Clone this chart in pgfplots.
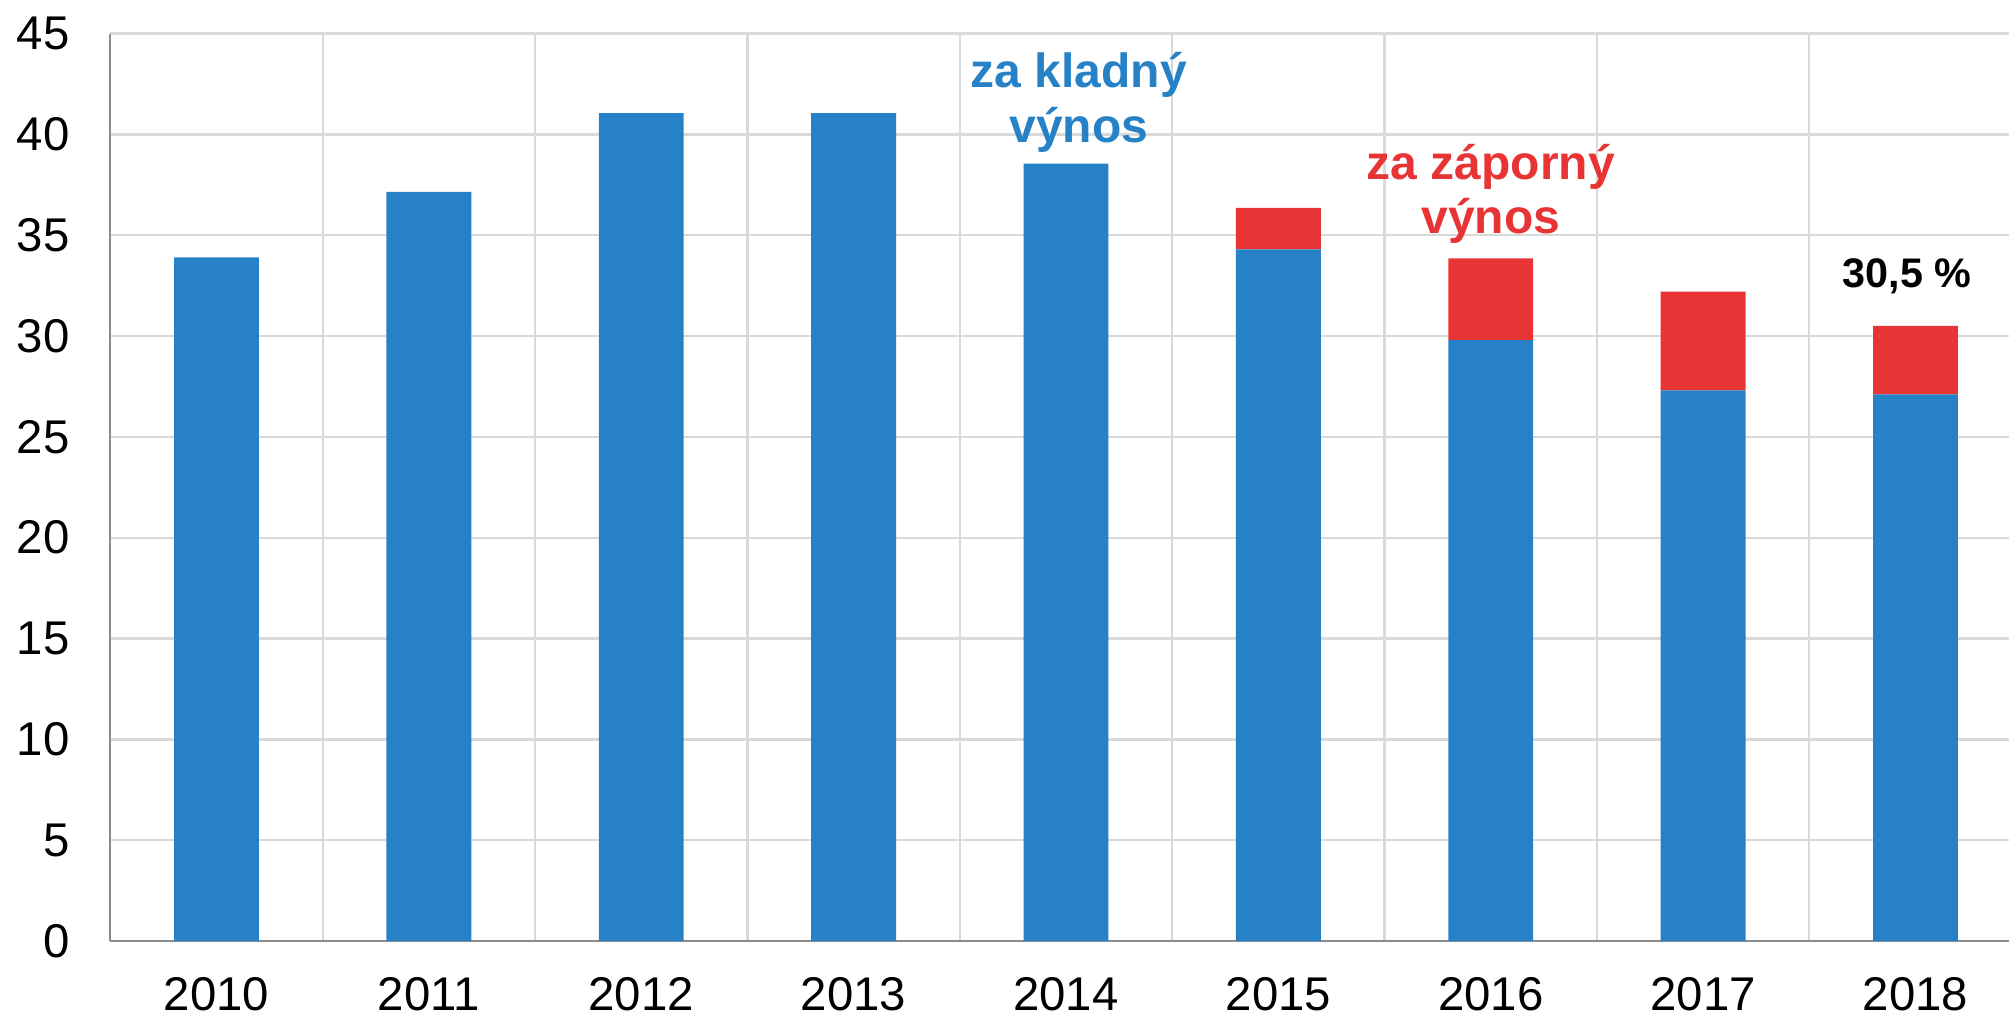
\documentclass[border=0pt]{standalone}
\usepackage{fontspec}
\setmainfont{Liberation Sans}
\usepackage{pgfplots}
\pgfplotsset{compat=1.18}
\definecolor{barblue}{HTML}{2681C7}
\definecolor{barred}{HTML}{E83434}
\definecolor{gridgray}{HTML}{D9D9D9}
\definecolor{axisgray}{HTML}{8C8C8C}

\begin{document}
\begin{tikzpicture}
\begin{axis}[at={(33.09pt,23.4pt)},anchor=south west,scale only axis,
  width=569.6pt,height=272.25pt,
  ybar stacked,bar width=0.4,
  xmin=-0.5,xmax=8.44,ymin=0,ymax=45,
  xtick={0,...,8},xticklabels={2010,2011,2012,2013,2014,2015,2016,2017,2018},
  minor xtick={0.5,1.5,...,7.5},
  ytick={0,5,...,45},
  /pgf/number format/assume math mode=true,
  major tick length=0pt,minor tick length=0pt,
  ymajorgrids,xminorgrids,
  grid style={gridgray,line width=0.7pt},
  minor grid style={gridgray,line width=0.7pt},
  axis x line*=bottom,axis y line*=left,
  axis line style={axisgray,line width=0.6pt,-},
  tick label style={font=\fontsize{14.2}{16}\selectfont},
  yticklabel style={inner sep=0pt,xshift=-12pt},
  xticklabel style={inner sep=0pt,yshift=-10.8pt},
  clip=false]
  \addplot[fill=barblue,draw=none] coordinates {(0,33.9)(1,37.15)(2,41.05)(3,41.05)(4,38.55)(5,34.3)(6,29.8)(7,27.3)(8,27.1)};
  \addplot[fill=barred,draw=none] coordinates {(0,0)(1,0)(2,0)(3,0)(4,0)(5,2.05)(6,4.05)(7,4.9)(8,3.4)};
  \node[barblue,font=\fontsize{14.4}{16}\selectfont\bfseries,anchor=base] at (axis cs:4.06,42.3) {za kladný};
  \node[barblue,font=\fontsize{14.4}{16}\selectfont\bfseries,anchor=base] at (axis cs:4.06,39.6) {výnos};
  \node[barred,font=\fontsize{14.4}{16}\selectfont\bfseries,anchor=base] at (axis cs:6,37.75) {za záporný};
  \node[barred,font=\fontsize{14.4}{16}\selectfont\bfseries,anchor=base] at (axis cs:6,35.1) {výnos};
  \node[black,font=\fontsize{12.4}{14}\selectfont\bfseries,anchor=base] at (axis cs:7.96,32.4) {30,5 \%};
\end{axis}
\pgfresetboundingbox
\path (0,0) rectangle (602.7pt,305.7pt);
\end{tikzpicture}
\end{document}
